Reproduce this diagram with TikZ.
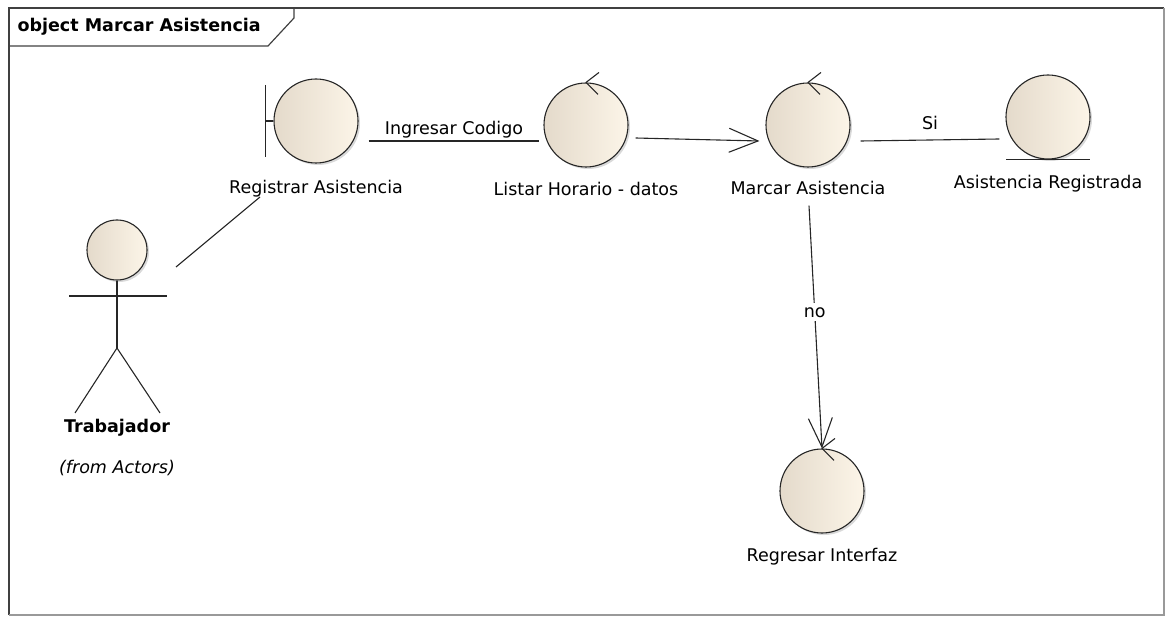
\documentclass[tikz,border=0pt]{standalone}
\usepackage{fontspec}
\setmainfont{DejaVu Sans}
\usepackage{tikz}
\usetikzlibrary{arrows.meta,positioning,shadows}
\definecolor{robustleft}{HTML}{E4DACB}
\definecolor{robustright}{HTML}{FCF5E8}
\newcommand{\umlfont}{\fontsize{17.5}{20}\selectfont}

\begin{document}
\begin{tikzpicture}[
    x=1pt,y=-1pt,
    font=\umlfont,
    robust/.style={circle,draw=black!85,line width=1.1pt,minimum size=84pt,inner sep=0pt,
      left color=robustleft,right color=robustright,
      drop shadow={shadow xshift=2pt,shadow yshift=-2pt,opacity=0.3}},
    caption/.style={inner sep=2pt},
    link/.style={draw=black!85,line width=1.1pt},
    flow/.style={link,-{Straight Barb[length=29pt,width=24pt,line width=1.1pt]}},
    frameline/.style={draw=black!75,line width=1.2pt}
  ]
    \useasboundingbox (0,0) rectangle (1173,617);
    \draw[frameline] (9,615) -- (9,8) -- (1164,8);
    \draw[draw=black!40,line width=1.2pt] (1164,8) -- (1164,615) -- (9,615);
    \draw[frameline] (9,46) -- (268,46) -- (294,18) -- (294,8);
    \node[anchor=west] (frameTitle) at (14,27) {\bfseries object Marcar Asistencia};

    \node[robust] (regAsist) at (316,121) {};
    \node[robust] (listHor) at (586,125) {};
    \node[robust] (marcAsist) at (808,125) {};
    \node[robust] (asistReg) at (1048,117) {};
    \node[robust] (regInter) at (822,491) {};

    \node[caption,below=14pt of regAsist] (regAsistTxt) {Registrar Asistencia};
    \node[caption,below=12pt of listHor] (listHorTxt) {Listar Horario - datos};
    \node[caption,below=11pt of marcAsist] (marcAsistTxt) {Marcar Asistencia};
    \node[caption,below=13pt of asistReg] (asistRegTxt) {Asistencia Registrada};
    \node[caption,below=12pt of regInter] (regInterTxt) {Regresar Interfaz};

    \draw[link] ([xshift=-8pt]regAsist.west) ++(0,-36) -- ++(0,72);
    \draw[link] (regAsist.west) -- ++(-8,0);
    \draw[link] ([xshift=-42pt]asistReg.south) -- ([xshift=42pt]asistReg.south);
    \foreach \ctl in {listHor,marcAsist,regInter}
      \draw[link] (\ctl.north) -- ++(13,-10) (\ctl.north) -- ++(12,12);

    \node[robust,minimum size=60pt] (actorHead) at (117,250) {};
    \draw[link] (actorHead.south) -- (117,348) coordinate (actorHip);
    \draw[link] (69,296) -- (167,296);
    \draw[link] (75,413) -- (actorHip) -- (160,413);
    \node[caption] (actorName) at (117,428) {\bfseries Trabajador};
    \node[caption] (actorOrigin) at (117,468) {\itshape (from Actors)};

    \coordinate (actorHand) at (176,267);
    \coordinate (regAsistFoot) at (260,197);
    \draw[link] (actorHand) -- (regAsistFoot);
    \draw[link] ([xshift=10pt,yshift=-20pt]regAsist.east) --
      node[caption,above] (codeTxt) {Ingresar Codigo} ([xshift=-4pt,yshift=-16pt]listHor.west);
    \draw[flow] ([xshift=7pt,yshift=-13pt]listHor.east) -- ([xshift=-6pt,yshift=-16pt]marcAsist.west);
    \draw[link] ([xshift=10pt,yshift=-16pt]marcAsist.east) --
      node[caption,above=8pt] (siTxt) {Si} ([xshift=-6pt,yshift=-22pt]asistReg.west);
    \draw[flow] ([xshift=1pt,yshift=-38pt]marcAsist.south) --
      node[caption,pos=0.44,fill=white,inner sep=4pt] (noTxt) {no} (regInter.north);
  \end{tikzpicture}
\end{document}
